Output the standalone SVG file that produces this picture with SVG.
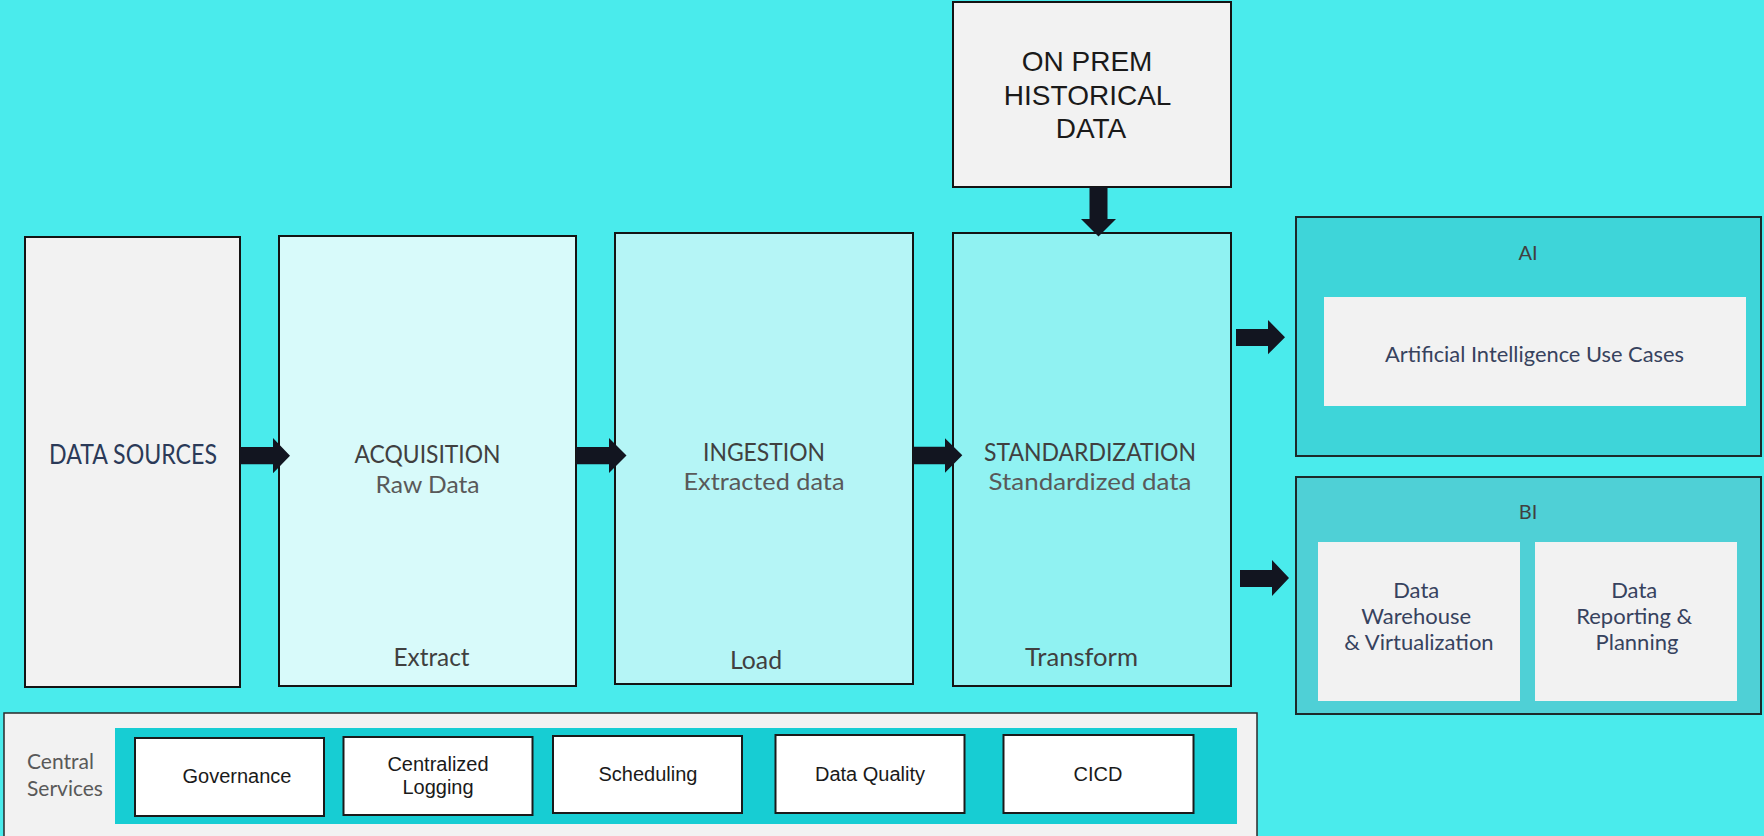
<svg xmlns="http://www.w3.org/2000/svg" width="1764" height="836" viewBox="0 0 1764 836">
<style>
.box{stroke:#141414;stroke-width:2}
.lato{font-family:Lato,"Open Sans","Liberation Sans",sans-serif}
.arial{font-family:"Liberation Sans",Arial,sans-serif}
.title{font-size:25px;fill:#404040}
.sub{font-size:24px;fill:#595959}
.foot{font-size:24.5px;fill:#404040}
.navy{fill:#37425E}
.svc{stroke:#1a1a1a;stroke-width:2;fill:#ffffff}
.svct{font-size:20px;fill:#1a1a1a}
.arrow{fill:#121520}
</style>
<rect x="0" y="0" width="1764" height="836" fill="#4AEBEC"/>

<g id="data-sources">
<rect class="box" x="25" y="237" width="215" height="450" fill="#F2F2F2"/>
<text class="lato" x="133" y="464" font-size="26" fill="#2B3A58" text-anchor="middle" textLength="168" lengthAdjust="spacingAndGlyphs">DATA SOURCES</text>
</g>

<g id="acquisition">
<rect class="box" x="279" y="236" width="297" height="450" fill="#D8FAFA"/>
<text class="lato title" x="427.5" y="463" text-anchor="middle" textLength="146" lengthAdjust="spacingAndGlyphs">ACQUISITION</text>
<text class="lato sub" x="427.5" y="493" text-anchor="middle" textLength="104" lengthAdjust="spacingAndGlyphs">Raw Data</text>
<text class="lato foot" x="431.5" y="666" text-anchor="middle" textLength="76" lengthAdjust="spacingAndGlyphs">Extract</text>
</g>

<g id="ingestion">
<rect class="box" x="615" y="233" width="298" height="451" fill="#B5F5F6"/>
<text class="lato title" x="764" y="461" text-anchor="middle" textLength="122" lengthAdjust="spacingAndGlyphs">INGESTION</text>
<text class="lato sub" x="764" y="490" text-anchor="middle" textLength="161" lengthAdjust="spacingAndGlyphs">Extracted data</text>
<text class="lato foot" x="756" y="669" text-anchor="middle" textLength="52" lengthAdjust="spacingAndGlyphs">Load</text>
</g>

<g id="standardization">
<rect class="box" x="953" y="233" width="278" height="453" fill="#90F2F2"/>
<text class="lato title" x="1090" y="461" text-anchor="middle" textLength="212" lengthAdjust="spacingAndGlyphs">STANDARDIZATION</text>
<text class="lato sub" x="1090" y="490" text-anchor="middle" textLength="203" lengthAdjust="spacingAndGlyphs">Standardized data</text>
<text class="lato foot" x="1081.5" y="666" text-anchor="middle" textLength="113" lengthAdjust="spacingAndGlyphs">Transform</text>
</g>

<g id="on-prem">
<rect class="box" x="953" y="2" width="278" height="185" fill="#F2F2F2"/>
<text class="arial" font-size="28" fill="#1a1a1a" text-anchor="middle">
<tspan x="1091" y="71">ON PREM</tspan>
<tspan x="1091" y="105">HISTORICAL</tspan>
<tspan x="1091" y="138">DATA</tspan>
</text>
</g>

<g id="ai">
<rect x="1296" y="217" width="465" height="239" fill="#3ED5D9" stroke="#1c2a2a" stroke-width="2"/>
<text class="lato" x="1528" y="260" font-size="20" fill="#404040" text-anchor="middle">AI</text>
<rect x="1324" y="297" width="422" height="109" fill="#F2F2F2"/>
<text class="lato navy" x="1534.5" y="362" font-size="21" text-anchor="middle" textLength="299" lengthAdjust="spacingAndGlyphs">Artificial Intelligence Use Cases</text>
</g>

<g id="bi">
<rect x="1296" y="477" width="465" height="237" fill="#4FD0D6" stroke="#1c2a2a" stroke-width="2"/>
<text class="lato" x="1528" y="519" font-size="20" fill="#404040" text-anchor="middle">BI</text>
<rect x="1318" y="542" width="202" height="159" fill="#F2F2F2"/>
<rect x="1535" y="542" width="202" height="159" fill="#F2F2F2"/>
<text class="lato navy" font-size="22" text-anchor="middle">
<tspan x="1419" y="598">Data</tspan>
<tspan x="1419" y="624">Warehouse</tspan>
<tspan x="1419" y="650">&amp; Virtualization</tspan>
</text>
<text class="lato navy" font-size="22" text-anchor="middle">
<tspan x="1637" y="598">Data</tspan>
<tspan x="1637" y="624">Reporting &amp;</tspan>
<tspan x="1637" y="650">Planning</tspan>
</text>
</g>

<g id="central-services">
<rect x="4" y="713" width="1253" height="140" fill="#F2F2F2" stroke="#2a2a2a" stroke-width="1.5"/>
<text class="lato" font-size="21" fill="#595959">
<tspan x="27" y="769">Central</tspan>
<tspan x="27" y="796">Services</tspan>
</text>
<rect x="115" y="728" width="1122" height="96" fill="#17CDD3"/>
<g id="governance">
<rect class="svc" x="135" y="738" width="189" height="78"/>
<text class="arial svct" x="237" y="783" text-anchor="middle">Governance</text>
</g>
<g id="logging">
<rect class="svc" x="343.5" y="737" width="189" height="78"/>
<text class="arial svct" text-anchor="middle"><tspan x="438" y="771">Centralized</tspan><tspan x="438" y="794">Logging</tspan></text>
</g>
<g id="scheduling">
<rect class="svc" x="553" y="736" width="189" height="77"/>
<text class="arial svct" x="648" y="781" text-anchor="middle">Scheduling</text>
</g>
<g id="data-quality">
<rect class="svc" x="775.5" y="735" width="189" height="78"/>
<text class="arial svct" x="870" y="781" text-anchor="middle">Data Quality</text>
</g>
<g id="cicd">
<rect class="svc" x="1003.5" y="735" width="190" height="78"/>
<text class="arial svct" x="1098" y="781" text-anchor="middle">CICD</text>
</g>
</g>

<g id="connectors">
<polygon class="arrow" points="240,447 273,447 273,438 290,455.7 273,473.3 273,464.3 240,464.3"/>
<polygon class="arrow" points="576,447 609,447 609,438 626.5,455.5 609,473 609,464.3 576,464.3"/>
<polygon class="arrow" points="913,446.7 945,446.7 945,438.3 962.3,455.3 945,472.7 945,464.3 913,464.3"/>
<polygon class="arrow" points="1236,329 1268,329 1268,320 1285,337.3 1268,354.3 1268,346 1236,346"/>
<polygon class="arrow" points="1240,570 1272,570 1272,560 1289,578 1272,596 1272,587 1240,587"/>
<polygon class="arrow" points="1089.5,187 1107.5,187 1107.5,219 1116,219 1098.5,236.5 1081,219 1089.5,219"/>
</g>
</svg>
